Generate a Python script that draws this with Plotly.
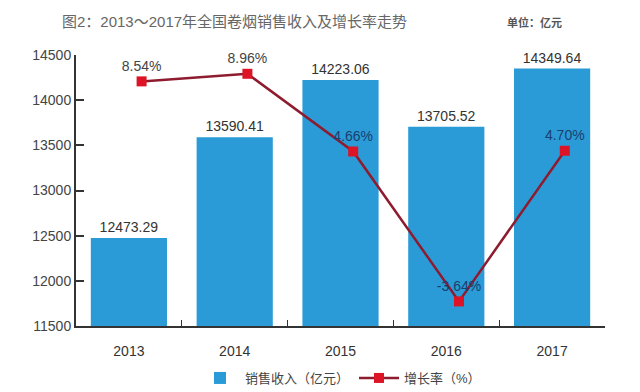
import plotly.graph_objects as go

years = ["2013", "2014", "2015", "2016", "2017"]
revenue = [12473.29, 13590.41, 14223.06, 13705.52, 14349.64]
growth = [8.54, 8.96, 4.66, -3.64, 4.70]
growth_labels = ["8.54%", "8.96%", "4.66%", "-3.64%", "4.70%"]
revenue_labels = ["12473.29", "13590.41", "14223.06", "13705.52", "14349.64"]

FONT = "Liberation Sans, Arial, Noto Sans CJK SC, sans-serif"
CJK = "Liberation Sans, Noto Sans CJK SC, sans-serif"

fig = go.Figure()
fig.add_trace(go.Bar(
    x=years, y=revenue, name="销售收入（亿元）",
    marker=dict(color="#2A9BD6", line=dict(width=0)),
    width=0.72,
    text=revenue_labels, textposition="outside",
    textfont=dict(size=14, color="#333333", family=FONT),
    cliponaxis=False,
))
fig.add_trace(go.Scatter(
    x=list(range(len(years))), y=growth, name="增长率（%）",
    xaxis="x2", yaxis="y2",
    mode="lines+markers+text",
    line=dict(color="#8E1B2E", width=2.5),
    marker=dict(symbol="square", size=10, color="#DC1426", line=dict(width=0)),
    text=growth_labels, textposition="top center",
    textfont=dict(size=14, family=FONT,
                  color=["#444444", "#444444", "#1B3F6E", "#1B3F6E", "#1B3F6E"]),
    cliponaxis=False,
))

fig.update_layout(
    width=640, height=392,
    margin=dict(l=76, r=35, t=55, b=66, autoexpand=False),
    paper_bgcolor="white", plot_bgcolor="white",
    showlegend=True,
    legend=dict(orientation="h", x=0.5, xanchor="center",
                yref="container", y=1-378/392, yanchor="middle",
                font=dict(size=13, color="#444444", family=CJK), itemwidth=40,
                tracegroupgap=0),
    title=dict(text="图2：2013～2017年全国卷烟销售收入及增长率走势",
               x=62/640, xanchor="left", y=1-22/392, yanchor="middle",
               font=dict(size=15, color="#666666", family=CJK)),
    xaxis=dict(type="category", showline=True, linecolor="#333333", linewidth=2,
               ticks="inside", tickson="boundaries", ticklen=6, tickcolor="#333333",
               ticklabelstandoff=11, automargin=False,
               tickfont=dict(size=14, color="#333333", family=FONT), showgrid=False),
    yaxis=dict(range=[11500, 14500], dtick=500, tickformat="d", showline=True,
               linecolor="#333333", linewidth=2, ticks="inside", ticklen=8,
               tickcolor="#333333", tickwidth=2, automargin=False,
               tickfont=dict(size=14, color="#444444", family=FONT), showgrid=False,
               zeroline=False),
    xaxis2=dict(overlaying="x", range=[-0.62, 4.38], visible=False),
    yaxis2=dict(overlaying="y", range=[-5, 10], visible=False),
    bargap=0.28,
)
fig.add_annotation(text="<b>单位：亿元</b>", xref="paper", yref="paper",
                   x=(505-76)/529, y=1+(55-22)/271, xanchor="left", yanchor="middle",
                   showarrow=False, font=dict(size=11, color="#555555", family=CJK))

fig.write_html("out.html", config={"displayModeBar": False},
               post_script="document.body.style.margin='0';")
